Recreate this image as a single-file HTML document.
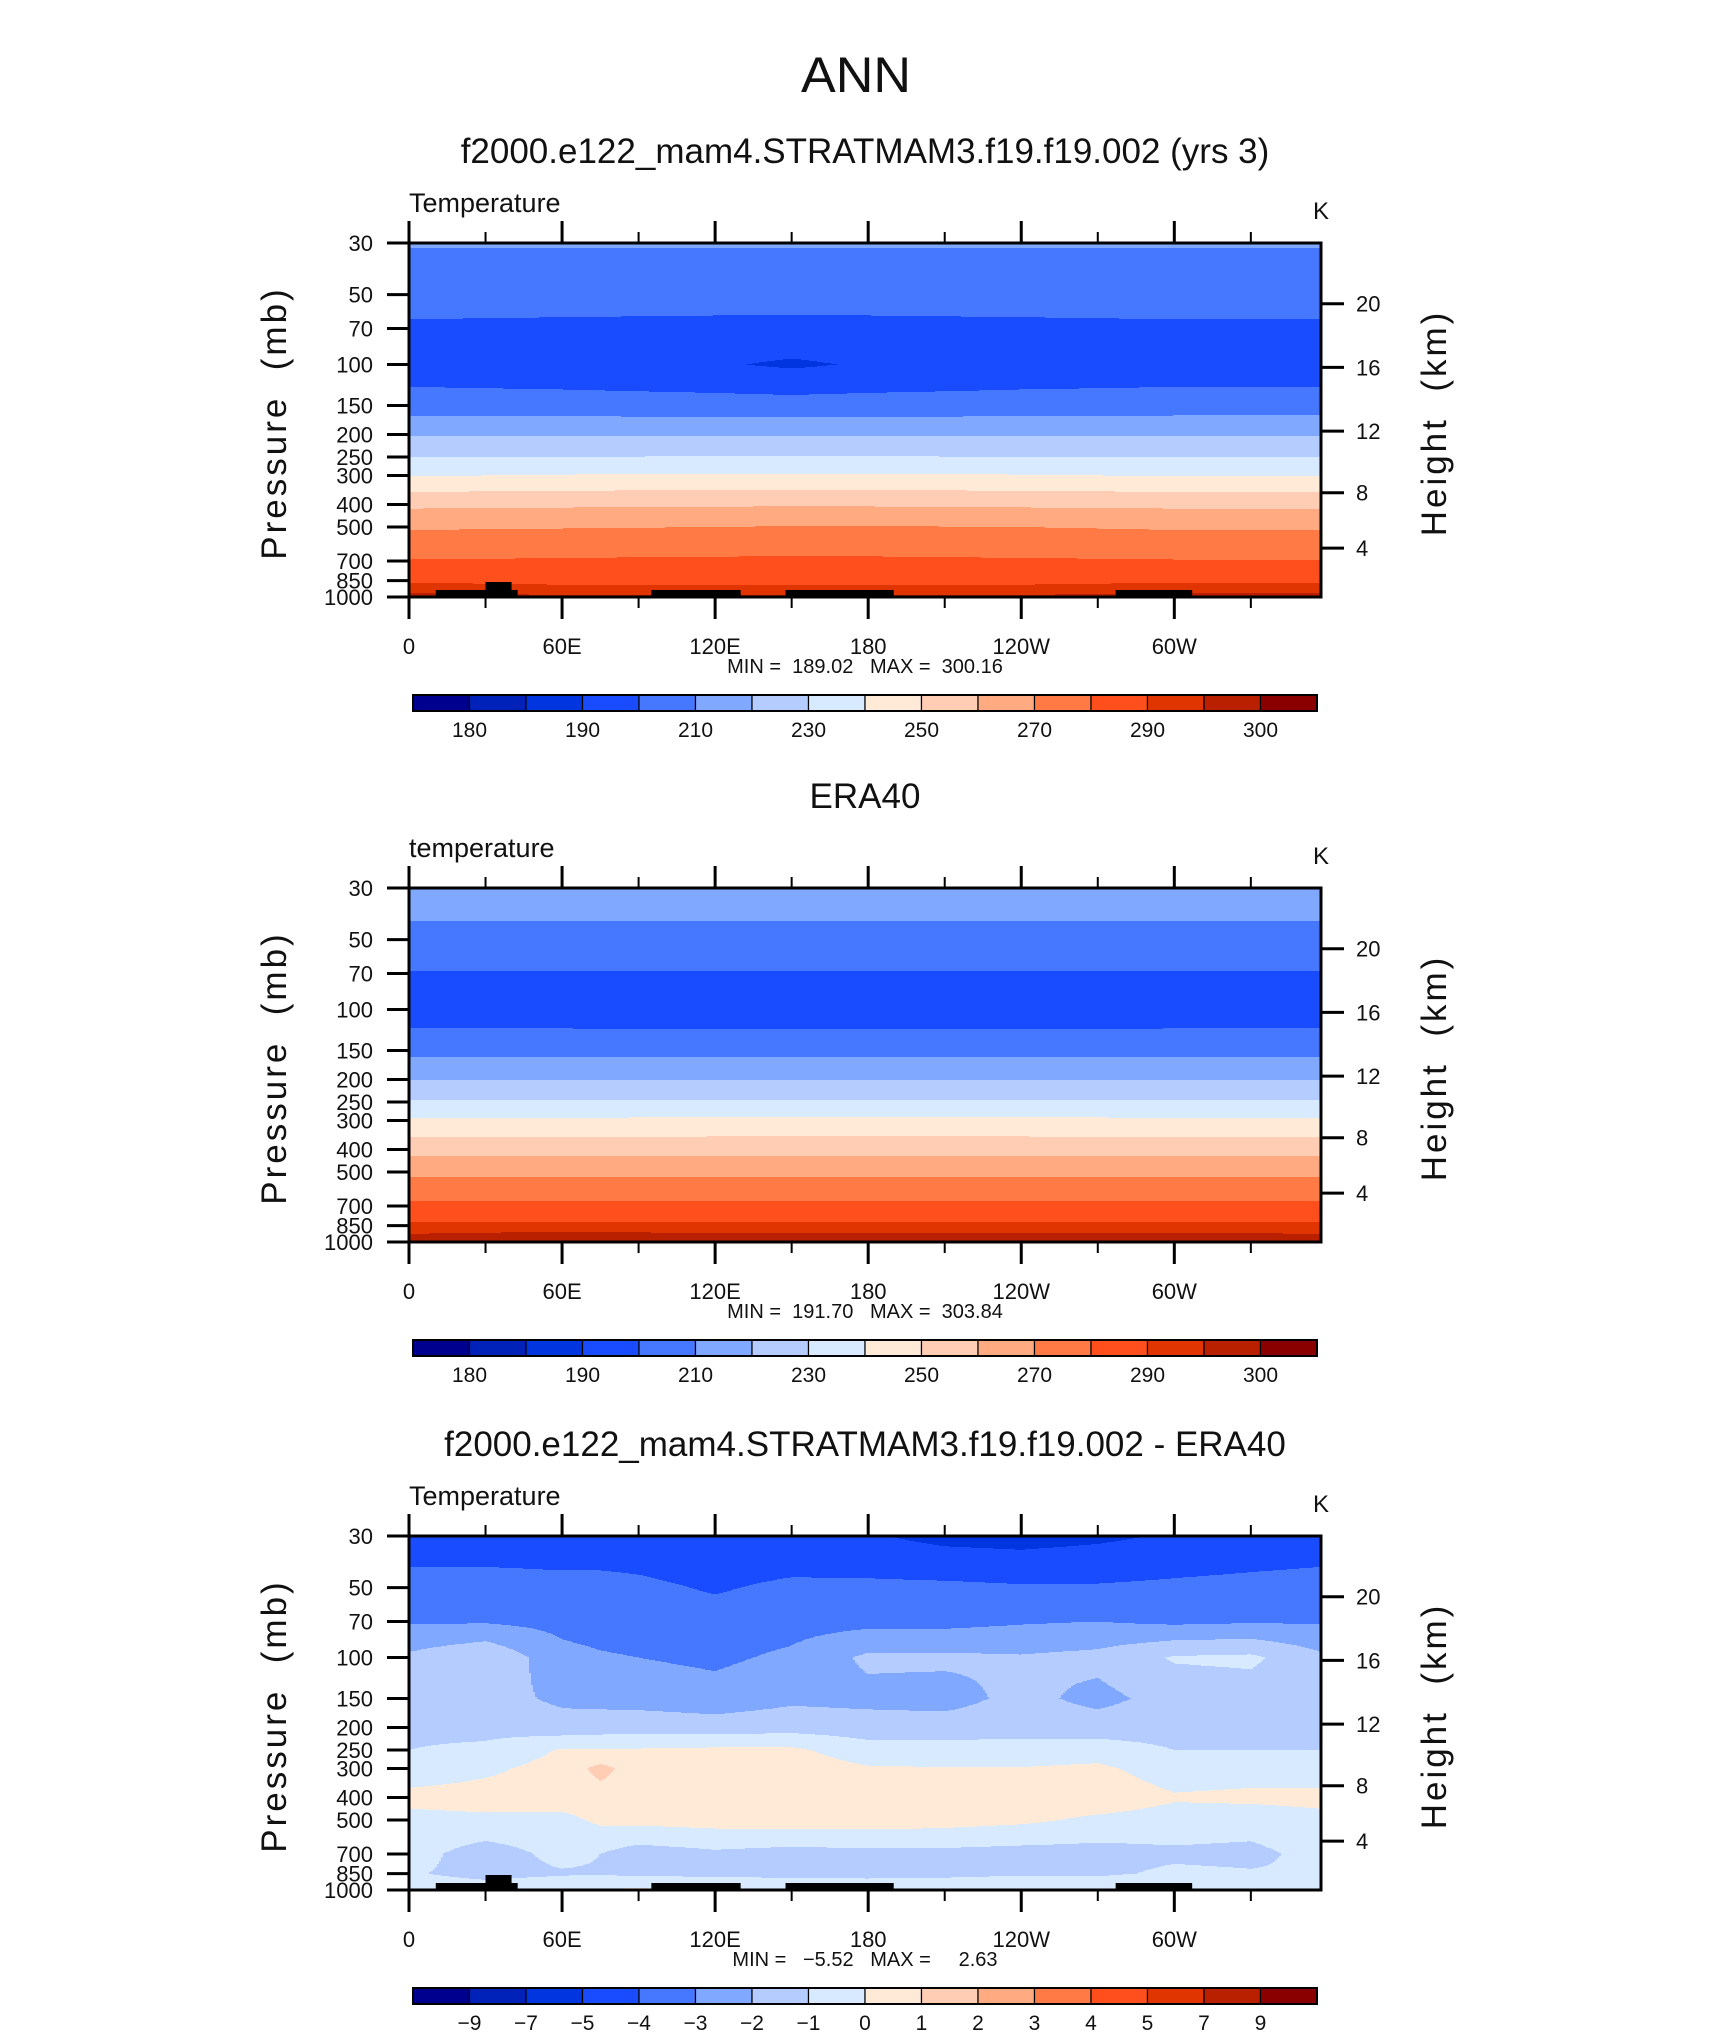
<!DOCTYPE html>
<html><head><meta charset="utf-8"><style>
html,body{margin:0;padding:0;background:#fff;}
svg{display:block;font-family:"Liberation Sans",sans-serif;}
</style></head><body>
<svg id="fig" width="1710" height="2038" viewBox="0 0 1710 2038" xmlns="http://www.w3.org/2000/svg">
<text x="856" y="92" font-size="50" text-anchor="middle" fill="#111" style="font-weight:300" textLength="110" lengthAdjust="spacingAndGlyphs">ANN</text>
</svg>
<script>
// ---------- data ----------
const tempLevels = [180,185,190,200,210,220,230,240,250,260,270,280,290,295,300];
const tempLevelLabels = ["180","","190","","210","","230","","250","","270","","290","","300"];
const diffLevels = [-9,-7,-5,-4,-3,-2,-1,0,1,2,3,4,5,7,9];
const diffLevelLabels = ["\u22129","\u22127","\u22125","\u22124","\u22123","\u22122","\u22121","0","1","2","3","4","5","7","9"];
const palette = ["#00008e","#0022b8","#0035e0","#1a4cff","#4678ff","#80a8ff","#b4ccff","#d8eaff","#ffead8","#ffcdb4","#ffaa80","#ff7a45","#ff4f1c","#e03500","#b82000","#8a0000"];

const pressures = [30,50,70,100,150,200,250,300,400,500,700,850,1000];
const pressureTicks = [30,50,70,100,150,200,250,300,400,500,700,850,1000];
const heightTicks = [4,8,12,16,20];
const lonMajor = [0,60,120,180,240,300];
const lonMajorLabels = ["0","60E","120E","180","120W","60W"];
const lonMinor = [30,90,150,210,270,330];

const modelLons = [0,60,120,150,180,240,300,357.5];
const modelT = [
 [210.6,210.6,210.6,210.6,210.6,210.6,210.6,210.6],
 [204,204,204,204,204,204,204,204],
 [198.5,198,197.5,197.5,197.5,198,198.5,198.5],
 [194,193,191,188.5,191,193,194,194],
 [205,204.5,204,204,204,204.5,205,205],
 [219.5,219.5,219,219,219,219.5,219.5,219.5],
 [230,230,230.5,230.5,230.5,230,230,230],
 [239.5,240.5,241,241,241,240.5,239.5,239.5],
 [258,258.5,259,259,259,258.5,258,258],
 [269,269.5,270,270.5,270.5,270,269,269],
 [280.5,281,281.5,281.5,281.5,281,280.5,280.5],
 [289,288,288,287.5,287.5,288,289,289],
 [297,296,296,296,296,296,297,297]
];
const eraLons = [0,60,120,180,240,300,357.5];
const eraT = [
 [214.5,214.5,214.5,214.5,214.5,214.5,214.5],
 [207.5,207.5,207.5,207.5,207.5,207.5,207.5],
 [199.5,199.5,199.5,199.5,199.5,199.5,199.5],
 [194.5,194,193.5,193.5,193.5,194,194.5],
 [207,207,207,207,207,207,207],
 [220,220,220,220,220,220,220],
 [231,231,231,231,231,231,231],
 [241.5,241.5,242,242,242,241.5,241.5],
 [256.5,256.5,256.5,256.5,256.5,256.5,256.5],
 [268,268,268,268,268,268,268],
 [282,282,282,282,282,282,282],
 [291.5,292,292,292,292,292,291.5],
 [298.5,300,298.5,298.5,298.5,299,298.5]
];
const diffLons = [0,30,60,75,90,120,150,180,210,240,270,300,330,357.5];
const diffT = [
 [-4.6,-4.6,-4.6,-4.6,-4.6,-4.7,-4.8,-4.9,-5.3,-5.4,-5.2,-4.9,-4.7,-4.6],
 [-3.6,-3.6,-3.7,-3.7,-3.8,-4.1,-3.8,-3.8,-3.8,-3.9,-3.9,-3.8,-3.7,-3.6],
 [-3.1,-3.1,-3.3,-3.4,-3.5,-3.6,-3.4,-3.3,-3.3,-3.1,-3.0,-3.2,-3.1,-3.1],
 [-1.8,-1.1,-2.7,-2.9,-3.0,-3.2,-2.8,-1.8,-1.8,-1.9,-1.7,-0.9,-0.8,-1.8],
 [-1.5,-1.6,-2.2,-2.3,-2.4,-2.6,-2.2,-2.3,-2.4,-1.7,-2.3,-1.6,-1.5,-1.5],
 [-1.2,-1.3,-1.6,-1.5,-1.4,-1.5,-1.4,-1.5,-1.5,-1.4,-1.5,-1.4,-1.4,-1.2],
 [-1.0,-0.8,0.1,0.1,0.1,0.2,0.2,-0.6,-0.6,-0.6,-0.5,-1.0,-1.0,-1.0],
 [-0.6,-0.2,0.4,1.3,0.5,0.6,0.6,0.1,0.05,0.05,0.2,-0.5,-0.4,-0.6],
 [0.3,0.4,0.5,0.6,0.6,0.7,0.7,0.7,0.6,0.6,0.6,0.1,0.2,0.3],
 [-0.3,-0.2,-0.3,0.2,0.3,0.4,0.5,0.5,0.4,0.2,-0.2,-0.4,-0.5,-0.3],
 [-0.6,-1.5,-0.7,-1.0,-1.5,-1.2,-1.4,-1.3,-1.3,-1.4,-1.4,-1.2,-1.3,-0.6],
 [-0.9,-1.3,-1.1,-1.1,-1.2,-1.3,-1.3,-1.3,-1.2,-1.1,-1.2,-0.8,-0.9,-0.9],
 [-0.5,-0.5,-0.3,0.0,0.2,0.2,-0.2,-0.3,-0.4,-0.3,0.1,0.1,-0.6,-0.5]
];
// topography mask blocks: start lon, end lon, surface pressure
const maskStart = [10.5,30,95,147.6,277];
const maskEnd = [42.6,40.2,130,190,307];
const maskPs = [933,862,933,933,933];

// ---------- layout ----------
const SVGNS="http://www.w3.org/2000/svg";
const svg=document.getElementById('fig');
const X0=409,W=912,H=354,LONMAX=357.5,LNR=Math.log(1000/30);
function xOf(lon){return X0+lon*W/LONMAX;}
function yOf(p,T){return T+H*Math.log(p/30)/LNR;}
function stdP(zkm){const z=zkm*1000;return z<11000?1013.25*Math.pow(1-2.25577e-5*z,5.25588):226.32*Math.exp(-(z-11000)/6341.6);}
function mk(tag,attrs,parent){const e=document.createElementNS(SVGNS,tag);for(const k in attrs)e.setAttribute(k,attrs[k]);(parent||svg).appendChild(e);return e;}
function txt(s,x,y,size,anchor,name,extra){
 const e=mk('text',Object.assign({x:x,y:y,'font-size':size,'text-anchor':anchor||'start',fill:'#111'},extra||{}));
 e.textContent=s;
 
 
 return e;
}
function seg(lo,hi,v){let i=0;while(i<lo.length-2&&v>lo[i+1])i++;return i;}
function sample(lons,Z,lon,p){
 const lp=pressures.map(q=>Math.log(q));const L=Math.log(p);
 const j=seg(lp,null,L),i=seg(lons,null,lon);
 let ty=(L-lp[j])/(lp[j+1]-lp[j]);ty=Math.max(0,Math.min(1,ty));
 let tx=(lon-lons[i])/(lons[i+1]-lons[i]);tx=Math.max(0,Math.min(1,tx));
 const a=Z[j][i]*(1-tx)+Z[j][i+1]*tx,b=Z[j+1][i]*(1-tx)+Z[j+1][i+1]*tx;
 return a*(1-ty)+b*ty;
}
function levelIdx(levels,v){let c=0;for(const l of levels)if(v>=l)c++;return c;}

function drawPanel(T,opts){
 const g=mk('g',{});
 
 
 const STEP=2;
 for(let px=0;px<W;px+=STEP){
  const lon=(px+STEP/2)*LONMAX/W;
  let prev=-1,start=0;
  for(let py=0;py<=H;py++){
   let c=-2;
   if(py<H){const p=30*Math.exp((py+0.5)/H*LNR);c=levelIdx(opts.levels,sample(opts.lons,opts.Z,lon,p));}
   if(c!==prev){
    if(prev>=0){
     const r=mk('rect',{x:X0+px,y:T+start,width:STEP+0.6,height:py-start+0.6,fill:palette[prev]},g);
     
     
    }
    prev=c;start=py;
   }
  }
 }
 if(opts.mask){
  for(let k=0;k<maskStart.length;k++){
   const y1=yOf(maskPs[k],T);
   const m=mk('rect',{x:xOf(maskStart[k]),y:y1,width:xOf(maskEnd[k])-xOf(maskStart[k]),height:T+H-y1,fill:'#000'},g);
   
   
  }
 }
 const f=mk('rect',{x:X0,y:T,width:W,height:H,fill:'none',stroke:'#000','stroke-width':3});
 
 
 pressureTicks.forEach(p=>{
  const y=yOf(p,T);
  const t=mk('line',{x1:X0-22,x2:X0,y1:y,y2:y,stroke:'#000','stroke-width':3});
  
  
  txt(String(p),373,y+8,22,'end','pressure-tick-label');
 });
 heightTicks.forEach(z=>{
  const y=yOf(stdP(z),T);
  const t=mk('line',{x1:X0+W,x2:X0+W+23,y1:y,y2:y,stroke:'#000','stroke-width':3});
  
  
  txt(String(z),1356,y+8,22,'start','height-tick-label');
 });
 lonMajor.forEach((lon,i)=>{
  const x=xOf(lon);
  const a=mk('line',{x1:x,x2:x,y1:T-22,y2:T,stroke:'#000','stroke-width':3});
  
  
  const b=mk('line',{x1:x,x2:x,y1:T+H,y2:T+H+22,stroke:'#000','stroke-width':3});
  
  
  txt(lonMajorLabels[i],x,T+411,22,'middle','lon-tick-label');
 });
 lonMinor.forEach(lon=>{
  const x=xOf(lon);
  const a=mk('line',{x1:x,x2:x,y1:T-11,y2:T,stroke:'#000','stroke-width':2});
  
  
  const b=mk('line',{x1:x,x2:x,y1:T+H,y2:T+H+11,stroke:'#000','stroke-width':2});
  
  
 });
 txt(opts.title,865,T-80,35,'middle','panel-title');
 txt(opts.varname,409,T-31,27,'start','variable-name');
 txt('K',1313,T-24,24,'start','units-label');
 txt(opts.minmax,865,T+430,20,'middle','min-max-label',{style:'white-space:pre'});
 txt('Pressure  (mb)',0,0,35,'middle','y-axis-title',{transform:'translate(286,'+(T+180)+') rotate(-90)','letter-spacing':'3',style:'white-space:pre'});
 txt('Height  (km)',0,0,35,'middle','right-axis-title',{transform:'translate(1446,'+(T+180)+') rotate(-90)','letter-spacing':'3',style:'white-space:pre'});
 const cbx=413,cbw=904,cby=T+452,cbh=16,bw=cbw/16;
 for(let k=0;k<16;k++){
  const r=mk('rect',{x:cbx+k*bw,y:cby,width:bw,height:cbh,fill:palette[k],stroke:'#000','stroke-width':1.2});
  
  
 }
 const fr=mk('rect',{x:cbx,y:cby,width:cbw,height:cbh,fill:'none',stroke:'#000','stroke-width':2});
 
 
 opts.cbLabels.forEach((s,k)=>{ if(s) txt(s,cbx+(k+1)*bw,T+494,21,'middle','colorbar-label'); });
}

drawPanel(243,{name:'panel-model',levels:tempLevels,lons:modelLons,Z:modelT,mask:true,
 title:'f2000.e122_mam4.STRATMAM3.f19.f19.002 (yrs 3)',varname:'Temperature',
 minmax:'MIN =  189.02   MAX =  300.16',cbLabels:tempLevelLabels});
drawPanel(888,{name:'panel-era40',levels:tempLevels,lons:eraLons,Z:eraT,mask:false,
 title:'ERA40',varname:'temperature',
 minmax:'MIN =  191.70   MAX =  303.84',cbLabels:tempLevelLabels});
drawPanel(1536,{name:'panel-difference',levels:diffLevels,lons:diffLons,Z:diffT,mask:true,
 title:'f2000.e122_mam4.STRATMAM3.f19.f19.002 - ERA40',varname:'Temperature',
 minmax:'MIN =   \u22125.52   MAX =     2.63',cbLabels:diffLevelLabels});
</script>
</body></html>
